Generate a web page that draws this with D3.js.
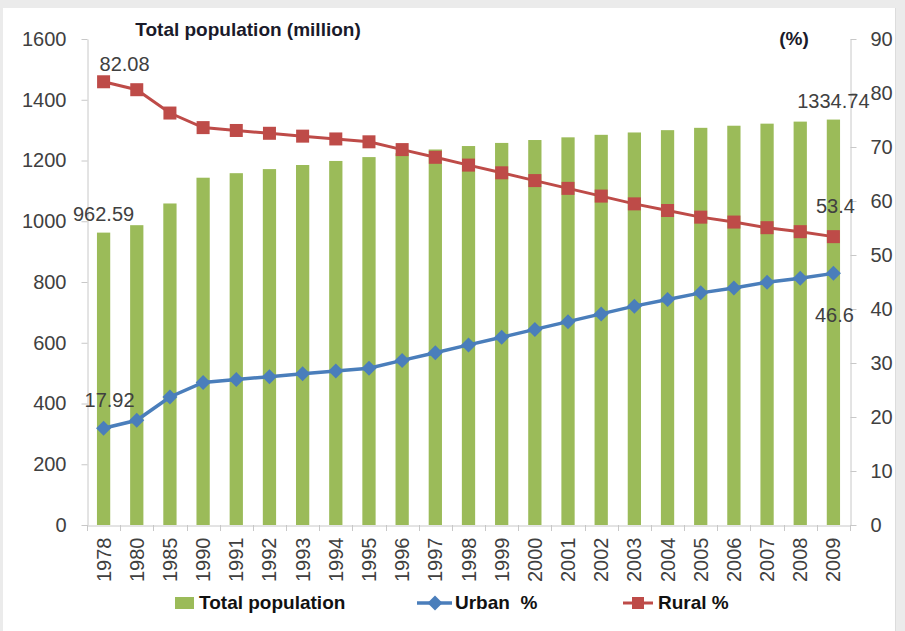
<!DOCTYPE html>
<html>
<head>
<meta charset="utf-8">
<script src="https://cdn.jsdelivr.net/npm/d3@7"></script>
<style>
  body { margin: 0; background: #ebebeb; }
  text { font-family: "Liberation Sans", Arial, sans-serif; }
</style>
</head>
<body>
<div id="chart"></div>
<script>
// Data
const years = ["1978", "1980", "1985", "1990", "1991", "1992", "1993", "1994", "1995", "1996", "1997",
  "1998", "1999", "2000", "2001", "2002", "2003", "2004", "2005", "2006", "2007", "2008", "2009"];
const totalPopulation = [962.59, 987.05, 1058.51, 1143.33, 1158.23, 1171.71, 1185.17, 1198.5, 1211.21,
  1223.89, 1236.26, 1247.61, 1257.86, 1267.43, 1276.27, 1284.53, 1292.27, 1299.88, 1307.56, 1314.48,
  1321.29, 1328.02, 1334.74];
const urbanPct = [17.92, 19.39, 23.71, 26.41, 26.94, 27.46, 27.99, 28.51, 29.04, 30.48, 31.91, 33.35,
  34.78, 36.22, 37.66, 39.09, 40.53, 41.76, 42.99, 43.9, 44.94, 45.68, 46.6];
const ruralPct = [82.08, 80.61, 76.29, 73.59, 73.06, 72.54, 72.01, 71.49, 70.96, 69.52, 68.09, 66.65,
  65.22, 63.78, 62.34, 60.91, 59.47, 58.24, 57.01, 56.1, 55.06, 54.32, 53.4];
const leftTicks = [0, 200, 400, 600, 800, 1000, 1200, 1400, 1600];
const rightTicks = [0, 10, 20, 30, 40, 50, 60, 70, 80, 90];
const seriesNames = ["Total population", "Urban  %", "Rural %"];

const width = 905, height = 631;
const barColor = "#9bbb59", urbanColor = "#4a7ebb", ruralColor = "#be4b48";
const axisColor = "#c8c8c8", labelColor = "#404040";

const svg = d3.select("#chart").append("svg")
  .attr("width", width)
  .attr("height", height);

// white chart area
svg.append("rect").attr("x", 3).attr("y", 8).attr("width", 892).attr("height", height - 8).attr("fill", "#fff");
svg.append("line").attr("x1", 895.5).attr("x2", 895.5).attr("y1", 8).attr("y2", height)
  .attr("stroke", "#dcdcdc");

// Scales
const x = d3.scaleBand().domain(years).range([87, 850]).paddingInner(0.6).paddingOuter(0.3);
const yL = d3.scaleLinear().domain([0, 1600]).range([525, 39]);
const yR = d3.scaleLinear().domain([0, 90]).range([525, 39]);
const cx = (d) => x(d) + x.bandwidth() / 2;

// Left axis
const leftAxis = svg.append("g")
  .attr("transform", "translate(87.5,0)")
  .call(d3.axisLeft(yL).tickValues(leftTicks).tickFormat(d3.format("d"))
    .tickSize(6).tickPadding(15).tickSizeOuter(0));
// Right axis
const rightAxis = svg.append("g")
  .attr("transform", "translate(850.5,0)")
  .call(d3.axisRight(yR).tickValues(rightTicks).tickFormat(d3.format("d"))
    .tickSize(6).tickPadding(14).tickSizeOuter(0));
// Bottom axis
const bottomAxis = svg.append("g")
  .attr("transform", "translate(0,525.5)")
  .call(d3.axisBottom(x).tickSize(0).tickSizeOuter(0));
bottomAxis.selectAll("text")
  .attr("transform", "rotate(-90)")
  .attr("text-anchor", "end")
  .attr("x", -12)
  .attr("y", 0)
  .attr("dy", "0.35em");
// category boundary ticks
const step = x.step();
svg.append("g").selectAll("line")
  .data(years.concat(["end"]))
  .enter().append("line")
  .attr("x1", (d, i) => Math.round(x.range()[0] + i * step) + 0.5)
  .attr("x2", (d, i) => Math.round(x.range()[0] + i * step) + 0.5)
  .attr("y1", 525)
  .attr("y2", 531)
  .attr("stroke", axisColor);

[leftAxis, rightAxis, bottomAxis].forEach((g) => {
  g.selectAll("path, line").attr("stroke", axisColor);
  g.selectAll("text").attr("font-size", 20).attr("fill", labelColor)
    .attr("font-family", "Liberation Sans, Arial, sans-serif");
});

// Bars
svg.append("g").selectAll("rect")
  .data(years)
  .enter().append("rect")
  .attr("x", (d) => x(d))
  .attr("width", x.bandwidth())
  .attr("y", (d, i) => yL(totalPopulation[i]))
  .attr("height", (d, i) => yL(0) - yL(totalPopulation[i]))
  .attr("fill", barColor);

const diamond = (s) => `M0,${-s}L${s},0L0,${s}L${-s},0Z`;

function drawLine(values, color, strokeW, marker) {
  const line = d3.line().x((d, i) => cx(years[i])).y((d) => yR(d));
  svg.append("path")
    .datum(values)
    .attr("d", line)
    .attr("fill", "none")
    .attr("stroke", color)
    .attr("stroke-width", strokeW);
  const g = svg.append("g");
  if (marker === "diamond") {
    g.selectAll("path").data(values).enter().append("path")
      .attr("d", diamond(7.5))
      .attr("transform", (d, i) => `translate(${cx(years[i])},${yR(d)})`)
      .attr("fill", color);
  } else {
    g.selectAll("rect").data(values).enter().append("rect")
      .attr("x", (d, i) => cx(years[i]) - 6.5)
      .attr("y", (d) => yR(d) - 6.5)
      .attr("width", 13)
      .attr("height", 13)
      .attr("fill", color);
  }
}
drawLine(ruralPct, ruralColor, 3, "square");
drawLine(urbanPct, urbanColor, 3.5, "diamond");

// Data labels
const last = years.length - 1;
const labels = [
  { text: totalPopulation[0], x: cx(years[0]), y: yL(totalPopulation[0]) - 12 },
  { text: totalPopulation[last], x: cx(years[last]), y: yL(totalPopulation[last]) - 12 },
  { text: ruralPct[0], x: cx(years[0]) + 21, y: yR(ruralPct[0]) - 11 },
  { text: ruralPct[last], x: cx(years[last]) + 2, y: yR(ruralPct[last]) - 24 },
  { text: urbanPct[0], x: cx(years[0]) + 6, y: yR(urbanPct[0]) - 21 },
  { text: urbanPct[last], x: cx(years[last]) + 1, y: yR(urbanPct[last]) + 49 },
];
svg.append("g").selectAll("text")
  .data(labels)
  .enter().append("text")
  .attr("x", (d) => d.x)
  .attr("y", (d) => d.y)
  .attr("text-anchor", "middle")
  .attr("font-size", 20)
  .attr("fill", labelColor)
  .text((d) => d.text);

// Axis titles
svg.append("text")
  .attr("x", 248).attr("y", 36)
  .attr("text-anchor", "middle")
  .attr("font-size", 19).attr("font-weight", "bold")
  .attr("fill", "#1a1a2a")
  .text("Total population (million)");
svg.append("text")
  .attr("x", 794).attr("y", 45)
  .attr("text-anchor", "middle")
  .attr("font-size", 19).attr("font-weight", "bold")
  .attr("fill", "#1a1a2a")
  .text("(%)");

// Legend
const legend = svg.append("g");
legend.append("rect").attr("x", 175).attr("y", 597).attr("width", 19).attr("height", 12).attr("fill", barColor);
legend.append("line").attr("x1", 417).attr("x2", 452).attr("y1", 603).attr("y2", 603)
  .attr("stroke", urbanColor).attr("stroke-width", 3.5);
legend.append("path").attr("d", diamond(7.5)).attr("transform", "translate(435,603)").attr("fill", urbanColor);
legend.append("line").attr("x1", 623).attr("x2", 653).attr("y1", 603).attr("y2", 603)
  .attr("stroke", ruralColor).attr("stroke-width", 3);
legend.append("rect").attr("x", 632).attr("y", 597).attr("width", 12).attr("height", 12).attr("fill", ruralColor);
legend.selectAll("text")
  .data(seriesNames)
  .enter().append("text")
  .attr("x", (d, i) => [199, 455, 658][i])
  .attr("y", 609)
  .attr("font-size", 19)
  .attr("font-weight", "bold")
  .attr("fill", "#111")
  .style("white-space", "pre")
  .text((d) => d);
</script>
</body>
</html>
